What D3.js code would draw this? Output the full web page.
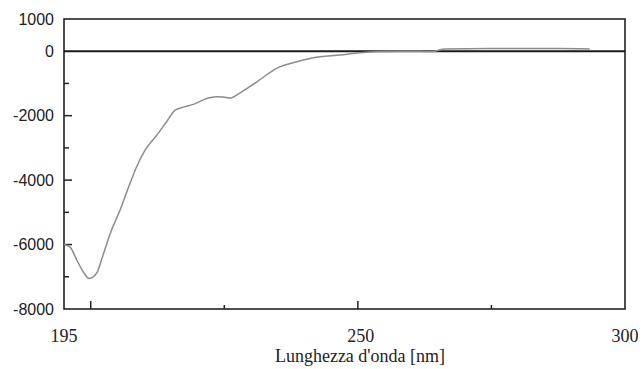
<!DOCTYPE html>
<html><head><meta charset="utf-8">
<script src="https://cdn.jsdelivr.net/npm/d3@7"></script>
<style>html,body{margin:0;padding:0;background:#fff;}svg{display:block;}</style>
</head><body>
<script>
const wavelength = [195.0,196.1,197.4,198.6,199.7,201.1,202.1,203.9,205.5,207.0,208.6,210.2,212.4,214.2,215.8,217.7,219.2,221.7,223.6,224.8,226.1,227.9,231.1,234.8,238.6,242.9,246.6,250.4,254.1,257.9,261.6,263.9,266.3,276.6,287.8,293.4];
const ellipticity = [-6000,-6070,-6480,-6845,-7050,-6890,-6430,-5550,-4930,-4255,-3585,-3065,-2600,-2190,-1825,-1720,-1650,-1470,-1410,-1420,-1450,-1300,-950,-530,-325,-170,-120,-45,-10,0,0,-10,70,85,85,70];
const yTickValues = [1000,0,-1000,-2000,-3000,-4000,-5000,-6000,-7000,-8000];
const yLabelValues = [1000,0,-2000,-4000,-6000,-8000];
const yMajorTicks = [-2000,-4000,-6000];
const xTickValues = [200,225,250,275];
const xMajorTicks = [200,250];
const xLabelValues = [195,250,300];
const xTitle = "Lunghezza d'onda [nm]";

const W=643,H=369;
const L=64,R=625,T=19,B=309;
const svg=d3.select("body").append("svg").attr("width",W).attr("height",H);
const x=d3.scaleLinear().domain([195,300]).range([L,R]);
const y=d3.scaleLinear().domain([-8000,1000]).range([B,T]);

// y ticks (inward)
svg.append("g").selectAll("line").data(yTickValues.filter(v=>v!==1000&&v!==-8000&&v!==0)).join("line")
  .attr("x1",L).attr("x2",d=>L+(yMajorTicks.includes(d)?8:5))
  .attr("y1",d=>y(d)).attr("y2",d=>y(d)).attr("stroke","#222").attr("stroke-width",1.5);
// x ticks (inward)
svg.append("g").selectAll("line").data(xTickValues).join("line")
  .attr("x1",d=>x(d)).attr("x2",d=>x(d))
  .attr("y1",B).attr("y2",d=>B-(xMajorTicks.includes(d)?8:4)).attr("stroke","#222").attr("stroke-width",1.5);

// frame
svg.append("rect").attr("x",L).attr("y",T).attr("width",R-L).attr("height",B-T)
  .attr("fill","none").attr("stroke","#222").attr("stroke-width",1.6);
// zero line
svg.append("line").attr("x1",L).attr("x2",R).attr("y1",y(0)).attr("y2",y(0))
  .attr("stroke","#1a1a1a").attr("stroke-width",2);

// curve
const pts=wavelength.map((w,i)=>[w,ellipticity[i]]);
svg.append("path").datum(pts)
  .attr("d",d3.line().x(d=>x(d[0])).y(d=>y(d[1])).curve(d3.curveMonotoneX))
  .attr("fill","none").attr("stroke","#8c8c8c").attr("stroke-width",1.5);

// y labels
svg.append("g").selectAll("text").data(yLabelValues).join("text")
  .attr("x",54).attr("y",d=>y(d)).attr("dy","0.36em").attr("text-anchor","end")
  .attr("font-family","Liberation Sans, Arial, sans-serif").attr("font-size",16).attr("fill","#222")
  .text(d=>d);
// x labels
svg.append("g").selectAll("text").data(xLabelValues).join("text")
  .attr("x",d=>x(d)+(d===250?3:0)).attr("y",342).attr("text-anchor","middle")
  .attr("font-family","Liberation Serif, Times New Roman, serif").attr("font-size",18).attr("fill","#222")
  .text(d=>d);
// title
svg.append("text").attr("x",360).attr("y",362).attr("text-anchor","middle")
  .attr("font-family","Liberation Serif, Times New Roman, serif").attr("font-size",18).attr("fill","#222")
  .text(xTitle);
</script>
</body></html>
